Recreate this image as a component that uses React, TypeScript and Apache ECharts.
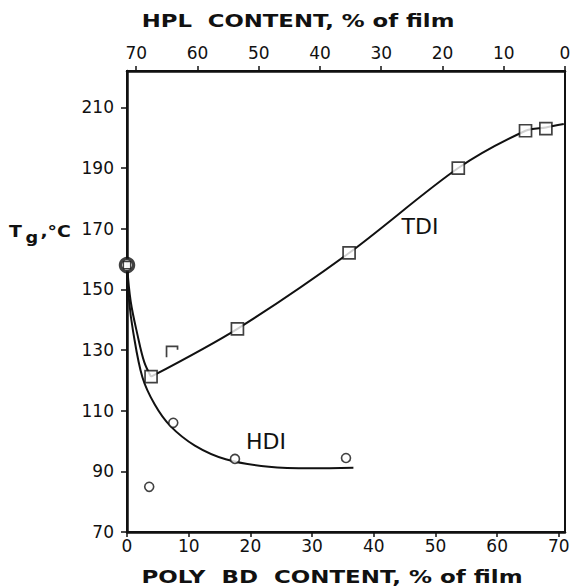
import { useEffect, useRef } from "react";
import * as echarts from "echarts";

// Axis tick values
const polyTicks = [0, 10, 20, 30, 40, 50, 60, 70];
const hplTicks = [0, 10, 20, 30, 40, 50, 60, 70];
const tgTicks = [70, 90, 110, 130, 150, 170, 190, 210];

// Measured points: [POLY BD content %, Tg °C]
const pureHpl: [number, number][] = [[0, 158]];
const tdiPoints: [number, number][] = [
  [3.9, 121.2],
  [17.9, 137],
  [36, 162],
  [53.7, 190],
  [64.6, 202.3],
  [67.9, 203],
];
const tdiPartial: [number, number][] = [[7.3, 129.4]];
const hdiPoints: [number, number][] = [
  [3.6, 84.9],
  [7.5, 106],
  [17.5, 94.1],
  [35.5, 94.4],
];

// Fitted curves
const tdiFall: [number, number][] = [
  [0, 158],
  [0.6, 146],
  [1.7, 135],
  [2.8, 126],
  [3.9, 121.2],
];
const tdiRise: [number, number][] = [
  [3.9, 121.2],
  [17.9, 137],
  [36, 162],
  [53.7, 190],
  [64.6, 202.3],
  [67.9, 203.4],
  [70.8, 204.5],
];
const hdiCurve: [number, number][] = [
  [0, 158],
  [0.3, 147],
  [1, 136],
  [2.5, 121],
  [4.5, 112],
  [7, 105],
  [11, 98.5],
  [16, 94],
  [23, 91.5],
  [30, 91],
  [36.7, 91.2],
];

const FONT = "DejaVu Sans";
const INK = "#111";

export default function App() {
  const ref = useRef<HTMLDivElement>(null);

  useEffect(() => {
    if (!ref.current) return;
    const chart = echarts.init(ref.current, undefined, { renderer: "svg" });

    const tickLabel = { color: INK, fontFamily: FONT, fontSize: 17 };
    const axisLine = { show: true, lineStyle: { color: INK, width: 2.5 } };
    const curve = { color: INK, width: 2 };

    chart.setOption({
      animation: false,
      backgroundColor: "#fff",
      grid: {
        left: 127,
        right: 7,
        top: 71,
        bottom: 56,
        containLabel: false,
        outerBoundsMode: "none",
        show: true,
        borderColor: INK,
        borderWidth: 2,
        backgroundColor: "transparent",
      },
      xAxis: [
        {
          type: "value",
          position: "bottom",
          min: 0,
          max: 71,
          axisLine,
          axisTick: {
            show: true,
            inside: false,
            length: 5,
            customValues: polyTicks,
            lineStyle: { color: INK, width: 1.5 },
          },
          axisLabel: { ...tickLabel, margin: 5, customValues: polyTicks },
          splitLine: { show: false },
        },
        {
          type: "value",
          position: "top",
          inverse: true,
          min: 0,
          max: 71.5,
          axisLine,
          axisTick: {
            show: true,
            inside: false,
            length: 5,
            customValues: hplTicks,
            lineStyle: { color: INK, width: 1.5 },
          },
          axisLabel: { ...tickLabel, margin: 10, customValues: hplTicks },
          splitLine: { show: false },
        },
      ],
      yAxis: {
        type: "value",
        min: 70,
        max: 222,
        axisLine,
        axisTick: {
          show: true,
          inside: false,
          length: 6,
          customValues: tgTicks,
          lineStyle: { color: INK, width: 1.5 },
        },
        axisLabel: { ...tickLabel, margin: 13, customValues: tgTicks },
        splitLine: { show: false },
      },
      series: [
        {
          type: "line",
          data: tdiFall,
          smooth: 0.35,
          showSymbol: false,
          lineStyle: curve,
          z: 2,
        },
        {
          type: "line",
          data: tdiRise,
          smooth: 0.3,
          showSymbol: false,
          lineStyle: curve,
          z: 2,
        },
        {
          type: "line",
          data: hdiCurve,
          smooth: 0.35,
          showSymbol: false,
          lineStyle: curve,
          z: 2,
        },
        {
          type: "scatter",
          data: tdiPoints,
          symbol: "rect",
          symbolSize: 12,
          itemStyle: { color: "#fff", borderColor: INK, borderWidth: 1.7 },
          z: 4,
        },
        {
          type: "scatter",
          data: tdiPartial,
          symbol: "path://M10,3L10,0L0,0L0,10",
          symbolSize: 11,
          itemStyle: { color: "none", borderColor: INK, borderWidth: 1.7 },
          z: 4,
        },
        {
          type: "scatter",
          data: hdiPoints,
          symbol: "circle",
          symbolSize: 9,
          itemStyle: { color: "#fff", borderColor: INK, borderWidth: 1.6 },
          z: 4,
        },
        {
          type: "scatter",
          data: pureHpl,
          symbol: "circle",
          symbolSize: 13,
          itemStyle: { color: "#fff", borderColor: INK, borderWidth: 3.5 },
          z: 5,
        },
        {
          type: "scatter",
          data: pureHpl,
          symbol: "rect",
          symbolSize: 7,
          itemStyle: { color: "#fff", borderColor: INK, borderWidth: 1.2 },
          z: 6,
        },
      ],
      graphic: [
        {
          type: "text",
          x: 298,
          y: 21,
          scaleX: 1.34,
          style: {
            text: "HPL  CONTENT, % of film",
            fill: INK,
            font: `bold 17px "${FONT}"`,
            align: "center",
            verticalAlign: "middle",
          },
        },
        {
          type: "text",
          x: 332,
          y: 577,
          scaleX: 1.35,
          style: {
            text: "POLY  BD  CONTENT, % of film",
            fill: INK,
            font: `bold 17px "${FONT}"`,
            align: "center",
            verticalAlign: "middle",
          },
        },
        {
          type: "text",
          x: 9,
          y: 232,
          scaleX: 1.18,
          style: {
            text: "{t|T}{g|g}{t|,°C}",
            align: "left",
            verticalAlign: "middle",
            rich: {
              t: { fill: INK, fontFamily: FONT, fontWeight: "bold", fontSize: 16 },
              g: {
                fill: INK,
                fontFamily: FONT,
                fontWeight: "bold",
                fontSize: 15,
                padding: [12, 2, 0, 3],
              },
            },
          },
        },
        {
          type: "text",
          x: 420,
          y: 226,
          style: {
            text: "TDI",
            fill: INK,
            font: `22px "${FONT}"`,
            align: "center",
            verticalAlign: "middle",
          },
        },
        {
          type: "text",
          x: 266,
          y: 441,
          style: {
            text: "HDI",
            fill: INK,
            font: `22px "${FONT}"`,
            align: "center",
            verticalAlign: "middle",
          },
        },
      ],
    });

    return () => chart.dispose();
  }, []);

  return (
    <div
      ref={ref}
      style={{ position: "absolute", left: 0, top: 0, width: 572, height: 588 }}
    />
  );
}
